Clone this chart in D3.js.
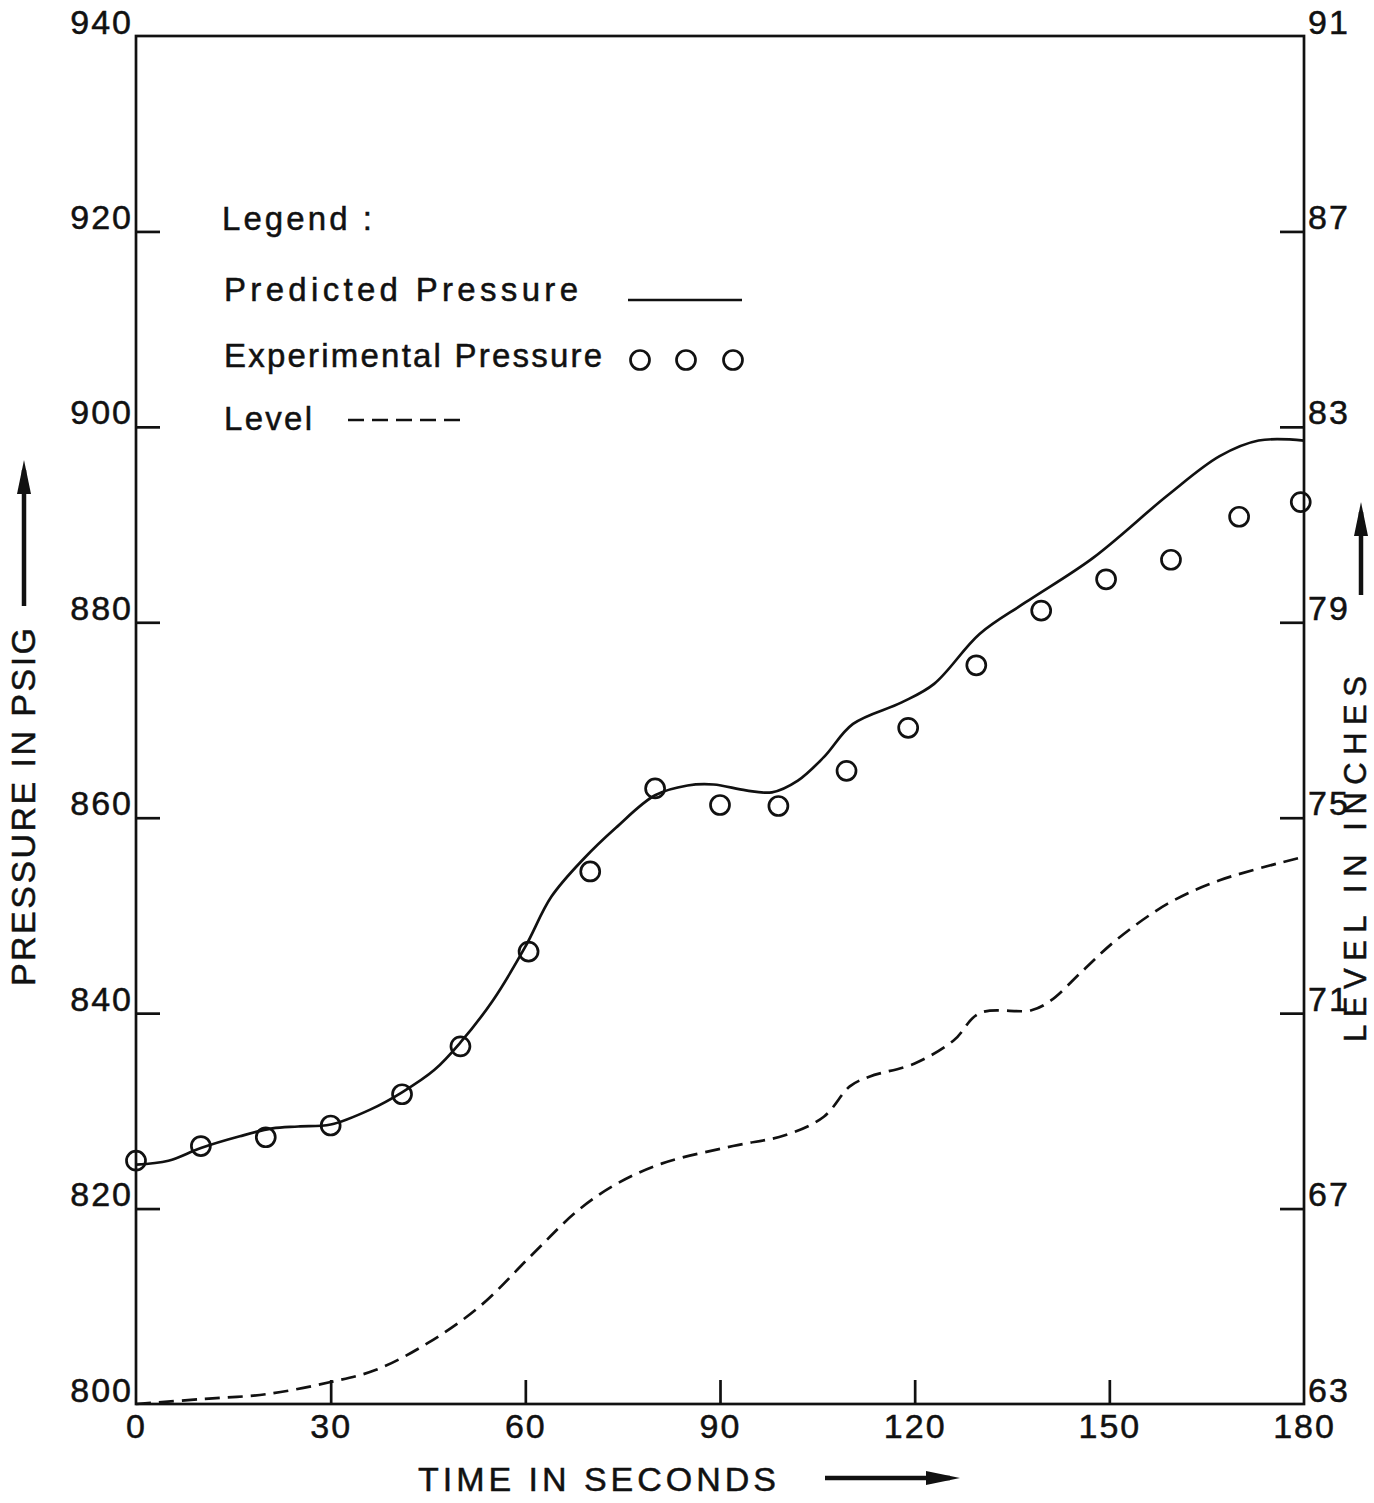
<!DOCTYPE html>
<html>
<head>
<meta charset="utf-8">
<script src="https://cdn.jsdelivr.net/npm/d3@7"></script>
<style>
  body { margin: 0; background: #fff; }
  text { font-family: "Liberation Sans", Arial, sans-serif; fill: #111; stroke: #111; stroke-width: 0.5px; }
</style>
</head>
<body>
<div id="maViz"></div>
<script>
// Données ----------------------------------------------
// pression prédite (trait plein)
const tempsPredit = [0, 5, 10, 16, 21, 25, 30, 36, 41, 46, 50, 55, 60, 64, 69, 74, 80, 85, 89, 94, 98, 102, 106, 110.5, 118, 123, 130, 137, 147.5, 159, 167, 173, 180];
const pressionPredite = [824.5, 824.9, 826.2, 827.4, 828.2, 828.4, 828.6, 830.1, 831.9, 834.2, 837.0, 841.3, 846.8, 851.9, 855.8, 859.0, 862.3, 863.3, 863.4, 862.8, 862.6, 863.8, 866.2, 869.6, 871.8, 873.7, 878.8, 882.0, 886.6, 893.0, 897.0, 898.6, 898.6];

// pression expérimentale (cercles)
const tempsExp = [0, 10, 20, 30, 41, 50, 60.5, 70, 80, 90, 99, 109.5, 119, 129.5, 139.5, 149.5, 159.5, 170, 179.5];
const pressionExp = [824.9, 826.4, 827.3, 828.5, 831.7, 836.6, 846.3, 854.5, 863.0, 861.3, 861.2, 864.8, 869.2, 875.6, 881.2, 884.4, 886.4, 890.8, 892.3];

// niveau (pointillés, axe de droite)
const tempsNiveau = [0, 10, 20, 30, 37, 45, 53, 61, 68, 74, 81, 92, 100, 106, 110, 113, 120, 126, 130, 138, 141, 146, 151, 159, 167, 180];
const niveau = [63.0, 63.1, 63.2, 63.45, 63.7, 64.25, 65.0, 66.05, 66.95, 67.5, 67.92, 68.28, 68.5, 68.88, 69.5, 69.7, 69.97, 70.44, 71.0, 71.06, 71.26, 71.88, 72.49, 73.24, 73.72, 74.2];

// graduations
const ticksTemps = [0, 30, 60, 90, 120, 150, 180];
const ticksPression = [800, 820, 840, 860, 880, 900, 920, 940];
const ticksNiveau = [63, 67, 71, 75, 79, 83, 87, 91];

// Dimensions ---------------------------------------------
const W = 1374, H = 1503;
const margin = {top: 36, right: 70, bottom: 99, left: 136};
const width = W - margin.left - margin.right;   // 1168
const height = H - margin.top - margin.bottom;  // 1368
const trait = 2.7;

const svg = d3.select("#maViz")
  .append("svg")
    .attr("width", W)
    .attr("height", H)
  .append("g")
    .attr("transform", "translate(" + margin.left + "," + margin.top + ")");

// Echelles
const x = d3.scaleLinear().domain([0, 180]).range([0, width]);
const yP = d3.scaleLinear().domain([800, 940]).range([height, 0]);
const yL = d3.scaleLinear().domain([63, 91]).range([height, 0]);

// Cadre
svg.append("rect")
  .attr("x", 0).attr("y", 0)
  .attr("width", width).attr("height", height)
  .attr("fill", "none").attr("stroke", "#111").attr("stroke-width", trait);

// Axe gauche (pression)
const axeG = svg.append("g")
  .call(d3.axisLeft(yP).tickValues(ticksPression).tickSizeInner(-24).tickSizeOuter(0).tickPadding(3).tickFormat(d3.format("d")));
// Axe droit (niveau)
const axeD = svg.append("g")
  .attr("transform", "translate(" + width + ",0)")
  .call(d3.axisRight(yL).tickValues(ticksNiveau).tickSizeInner(-24).tickSizeOuter(0).tickPadding(4).tickFormat(d3.format("d")));
// Axe bas (temps)
const axeB = svg.append("g")
  .attr("transform", "translate(0," + height + ")")
  .call(d3.axisBottom(x).tickValues(ticksTemps).tickSizeInner(-24).tickSizeOuter(0).tickPadding(10).tickFormat(d3.format("d")));

[axeG, axeD, axeB].forEach(a => {
  a.select(".domain").remove();
  a.selectAll("line").attr("stroke", "#111").attr("stroke-width", trait);
  a.selectAll("text").attr("font-size", 34).attr("letter-spacing", 2)
    .style("font-family", "Liberation Sans, Arial, sans-serif").attr("fill", "#111");
});
// pas de graduation dans les coins
axeG.selectAll(".tick").filter(d => d === 800 || d === 940).select("line").remove();
axeD.selectAll(".tick").filter(d => d === 63 || d === 91).select("line").remove();
axeB.selectAll(".tick").filter(d => d === 0 || d === 180).select("line").remove();
// étiquettes posées au-dessus du trait
axeG.selectAll("text").attr("dy", -3);
axeD.selectAll("text").attr("dy", -3);

// Courbes ------------------------------------------------
const lignePression = d3.line()
  .x((d, i) => x(tempsPredit[i]))
  .y(d => yP(d))
  .curve(d3.curveCatmullRom.alpha(0.5));

svg.append("path")
  .datum(pressionPredite)
  .attr("d", lignePression)
  .attr("fill", "none").attr("stroke", "#111").attr("stroke-width", trait);

const ligneNiveau = d3.line()
  .x((d, i) => x(tempsNiveau[i]))
  .y(d => yL(d))
  .curve(d3.curveCatmullRom.alpha(0.5));

svg.append("path")
  .datum(niveau)
  .attr("d", ligneNiveau)
  .attr("fill", "none").attr("stroke", "#111").attr("stroke-width", trait)
  .attr("stroke-dasharray", "15,8");

svg.append("g").selectAll("circle")
  .data(pressionExp)
  .join("circle")
    .attr("cx", (d, i) => x(tempsExp[i]))
    .attr("cy", d => yP(d))
    .attr("r", 9.5)
    .attr("fill", "none").attr("stroke", "#111").attr("stroke-width", trait);

// Légende ------------------------------------------------
const leg = d3.select("svg").append("g");
const txt = (t, px, py, len) => leg.append("text")
  .attr("x", px).attr("y", py).attr("font-size", 33)
  .attr("textLength", len).attr("lengthAdjust", "spacing").text(t);

txt("Legend :", 222, 230, 150);
txt("Predicted  Pressure", 224, 301, 354);
txt("Experimental Pressure", 224, 367, 378);
txt("Level", 224, 430, 88);

leg.append("line").attr("x1", 628).attr("x2", 742).attr("y1", 300).attr("y2", 300)
  .attr("stroke", "#111").attr("stroke-width", trait);
[640, 686, 733].forEach(cx => leg.append("circle").attr("cx", cx).attr("cy", 360).attr("r", 9.5)
  .attr("fill", "none").attr("stroke", "#111").attr("stroke-width", trait));
leg.append("line").attr("x1", 348).attr("x2", 466).attr("y1", 420).attr("y2", 420)
  .attr("stroke", "#111").attr("stroke-width", trait).attr("stroke-dasharray", "16,8");

// Titres des axes + flèches -----------------------------
const root = d3.select("svg");
root.append("text")
  .attr("transform", "translate(35,986) rotate(-90)")
  .attr("font-size", 34).attr("textLength", 358).attr("lengthAdjust", "spacing")
  .text("PRESSURE IN PSIG");
root.append("text")
  .attr("transform", "translate(1366,1042) rotate(-90)")
  .attr("font-size", 31).attr("textLength", 366).attr("lengthAdjust", "spacing")
  .text("LEVEL IN INCHES");
root.append("text")
  .attr("x", 418).attr("y", 1491)
  .attr("font-size", 34).attr("textLength", 358).attr("lengthAdjust", "spacing")
  .text("TIME IN SECONDS");

const fleche = (x1, y1, x2, y2) => {
  root.append("line").attr("x1", x1).attr("y1", y1).attr("x2", x2).attr("y2", y2)
    .attr("stroke", "#111").attr("stroke-width", 4.5);
  const a = Math.atan2(y2 - y1, x2 - x1), L = 24, w = 7;
  const p = [[x2 + Math.cos(a) * 10, y2 + Math.sin(a) * 10],
             [x2 - Math.cos(a) * L + Math.sin(a) * w, y2 - Math.sin(a) * L - Math.cos(a) * w],
             [x2 - Math.cos(a) * L - Math.sin(a) * w, y2 - Math.sin(a) * L + Math.cos(a) * w]];
  root.append("path").attr("d", "M" + p.join("L") + "Z").attr("fill", "#111");
};
fleche(24, 606, 24, 470);
fleche(825, 1478, 950, 1478);
fleche(1361, 595, 1361, 512);
</script>
</body>
</html>
